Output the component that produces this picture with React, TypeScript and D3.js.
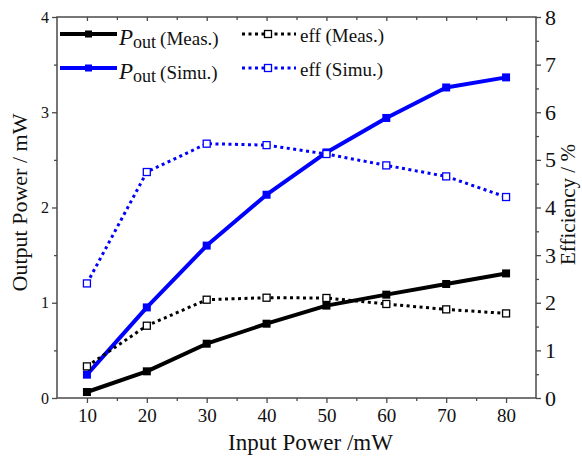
import React, { useEffect, useRef } from 'react';
import * as d3 from 'd3';

// data
const inputPower = [10, 20, 30, 40, 50, 60, 70, 80];
const poutMeas = [0.063, 0.28, 0.57, 0.78, 0.97, 1.085, 1.197, 1.308];
const poutSimu = [0.245, 0.951, 1.6, 2.134, 2.578, 2.94, 3.26, 3.366];
const effMeas = [0.664, 1.518, 2.064, 2.106, 2.1, 1.974, 1.861, 1.776];
const effSimu = [2.406, 4.745, 5.34, 5.31, 5.123, 4.884, 4.653, 4.22];

const xMajor = [10, 20, 30, 40, 50, 60, 70, 80];
const xMinor = [15, 25, 35, 45, 55, 65, 75];
const yLeftMajor = [0, 1, 2, 3, 4];
const yLeftMinor = [0.5, 1.5, 2.5, 3.5];
const yRightMajor = [0, 1, 2, 3, 4, 5, 6, 7, 8];
const yRightMinor = [0.5, 1.5, 2.5, 3.5, 4.5, 5.5, 6.5, 7.5];

const BLUE = '#0000ff';
const AXIS = '#4a4a4a';
const FONT = '"Liberation Serif", "Times New Roman", serif';

export default function App() {
  const svgRef = useRef<SVGSVGElement>(null);

  useEffect(() => {
    document.body.style.margin = '0';
    const svg = d3.select(svgRef.current);
    svg.selectAll('*').remove();

    const left = 57, right = 536, top = 17, bottom = 398;
    const x = d3.scaleLinear().domain([5, 85]).range([left, right]);
    const yL = d3.scaleLinear().domain([0, 4]).range([bottom, top]);
    const yR = d3.scaleLinear().domain([0, 8]).range([bottom, top]);

    const styleAxis = (g: any) => {
      g.select('.domain').remove();
      g.selectAll('line').attr('stroke', AXIS).attr('stroke-width', 1.3);
      g.selectAll('text').attr('font-family', FONT).attr('fill', '#111');
    };

    // bottom
    svg.append('g').attr('transform', `translate(0,${bottom})`)
      .call(d3.axisBottom(x).tickValues(xMajor).tickSize(5).tickPadding(6).tickFormat(d3.format('d')))
      .call(styleAxis)
      .selectAll('text').attr('font-size', 19);
    svg.append('g').attr('transform', `translate(0,${bottom})`)
      .call(d3.axisBottom(x).tickValues(xMinor).tickSize(3).tickFormat(() => ''))
      .call(styleAxis);
    // top (inward ticks)
    svg.append('g').attr('transform', `translate(0,${top})`)
      .call(d3.axisTop(x).tickValues(xMajor).tickSize(-4).tickFormat(() => ''))
      .call(styleAxis);
    svg.append('g').attr('transform', `translate(0,${top})`)
      .call(d3.axisTop(x).tickValues(xMinor).tickSize(-3).tickFormat(() => ''))
      .call(styleAxis);
    // left
    svg.append('g').attr('transform', `translate(${left},0)`)
      .call(d3.axisLeft(yL).tickValues(yLeftMajor).tickSize(5).tickPadding(3).tickFormat(d3.format('d')))
      .call(styleAxis)
      .selectAll('text').attr('font-size', 16);
    svg.append('g').attr('transform', `translate(${left},0)`)
      .call(d3.axisLeft(yL).tickValues(yLeftMinor).tickSize(3).tickFormat(() => ''))
      .call(styleAxis);
    // right
    svg.append('g').attr('transform', `translate(${right},0)`)
      .call(d3.axisRight(yR).tickValues(yRightMajor).tickSize(5).tickPadding(4).tickFormat(d3.format('d')))
      .call(styleAxis)
      .selectAll('text').attr('font-size', 22);
    svg.append('g').attr('transform', `translate(${right},0)`)
      .call(d3.axisRight(yR).tickValues(yRightMinor).tickSize(3).tickFormat(() => ''))
      .call(styleAxis);

    // frame
    svg.append('rect')
      .attr('x', left).attr('y', top)
      .attr('width', right - left).attr('height', bottom - top)
      .attr('fill', 'none').attr('stroke', AXIS).attr('stroke-width', 1.5);

    // axis titles
    svg.append('text')
      .attr('x', (left + right) / 2 + 14).attr('y', 450)
      .attr('text-anchor', 'middle').attr('font-family', FONT).attr('font-size', 23).attr('fill', '#111')
      .text('Input Power /mW');
    svg.append('text')
      .attr('transform', `translate(27,${(top + bottom) / 2 - 5}) rotate(-90)`)
      .attr('text-anchor', 'middle').attr('font-family', FONT).attr('font-size', 22).attr('fill', '#111')
      .text('Output Power / mW');
    svg.append('text')
      .attr('transform', `translate(575,${(top + bottom) / 2 - 3}) rotate(-90)`)
      .attr('text-anchor', 'middle').attr('font-family', FONT).attr('font-size', 21).attr('fill', '#111')
      .text('Efficiency / %');

    const lineL = d3.line<number>().x((_, i) => x(inputPower[i])).y(d => yL(d));
    const lineR = d3.line<number>().x((_, i) => x(inputPower[i])).y(d => yR(d));

    const drawSolid = (vals: number[], color: string) => {
      svg.append('path').attr('d', lineL(vals)).attr('fill', 'none')
        .attr('stroke', color).attr('stroke-width', 4).attr('stroke-linejoin', 'round');
      svg.append('g').selectAll('rect').data(vals).join('rect')
        .attr('x', (_, i) => x(inputPower[i]) - 4).attr('y', d => yL(d) - 4)
        .attr('width', 8).attr('height', 8).attr('fill', color);
    };
    const drawDotted = (vals: number[], color: string) => {
      svg.append('path').attr('d', lineR(vals)).attr('fill', 'none')
        .attr('stroke', color).attr('stroke-width', 3).attr('stroke-dasharray', '3 3.5');
      svg.append('g').selectAll('rect').data(vals).join('rect')
        .attr('x', (_, i) => x(inputPower[i]) - 3.5).attr('y', d => yR(d) - 3.5)
        .attr('width', 7).attr('height', 7).attr('fill', '#fff')
        .attr('stroke', color).attr('stroke-width', 1.3);
    };

    drawSolid(poutMeas, '#000');
    drawSolid(poutSimu, BLUE);
    drawDotted(effMeas, '#000');
    drawDotted(effSimu, BLUE);

    // legend
    const legend = svg.append('g');
    const rows = [
      { y: 34, color: '#000', label: 'Meas.' },
      { y: 68, color: BLUE, label: 'Simu.' },
    ];
    rows.forEach(r => {
      legend.append('line').attr('x1', 60).attr('x2', 117).attr('y1', r.y).attr('y2', r.y)
        .attr('stroke', r.color).attr('stroke-width', 4);
      legend.append('rect').attr('x', 85).attr('y', r.y - 3.5).attr('width', 7).attr('height', 7).attr('fill', r.color);
      const t = legend.append('text').attr('x', 119).attr('y', r.y + 11)
        .attr('font-family', FONT).attr('fill', '#111');
      t.append('tspan').attr('font-style', 'italic').attr('font-size', 23).text('P');
      t.append('tspan').attr('font-size', 18).attr('dy', 3).text('out');
      t.append('tspan').attr('font-size', 19).attr('dy', -3).attr('dx', 4).text(`(${r.label})`);

      legend.append('line').attr('x1', 242).attr('x2', 296).attr('y1', r.y).attr('y2', r.y)
        .attr('stroke', r.color).attr('stroke-width', 3).attr('stroke-dasharray', '3 3.5');
      legend.append('rect').attr('x', 264.5).attr('y', r.y - 3.5).attr('width', 7).attr('height', 7)
        .attr('fill', '#fff').attr('stroke', r.color).attr('stroke-width', 1.3);
      legend.append('text').attr('x', 300).attr('y', r.y + 8)
        .attr('font-family', FONT).attr('font-size', 19).attr('fill', '#111')
        .text(`eff (${r.label})`);
    });
  }, []);

  return <svg ref={svgRef} width={582} height={460} style={{ display: 'block', background: '#fff' }} />;
}
